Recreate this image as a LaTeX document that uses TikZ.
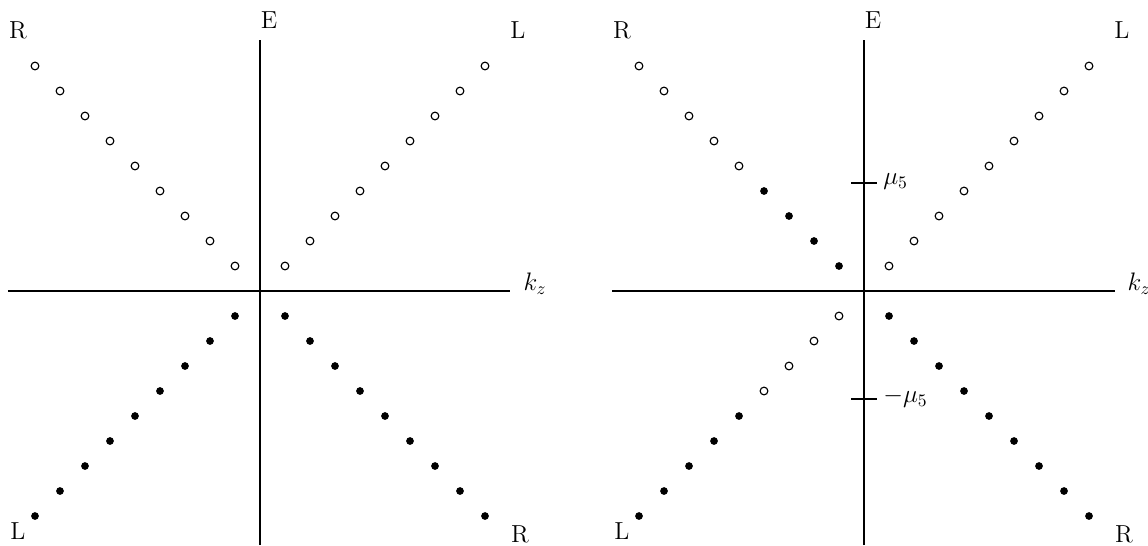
\documentclass[tikz,border=0pt]{standalone}
\begin{document}
\begin{tikzpicture}[x=0.5cm,y=0.5cm,line width=1.1pt,
  font=\fontsize{14pt}{16pt}\selectfont,
  hole/.style={draw,line width=0.65pt,fill=white},
  full/.style={fill=black}]
  \useasboundingbox (-10.4,-10.16) rectangle (35.52,11.64);
  % left panel: axes
  \coordinate (xlA) at (-10.08,0);
  \coordinate (xrA) at (10.0,0);
  \coordinate (ybA) at (0,-10.16);
  \coordinate (ytA) at (0,10.04);
  \draw (xlA) -- (xrA);
  \draw (ybA) -- (ytA);
  \node (kzA) at (11.0,0.28) {$k_z$};
  \node (EA) at (0.36,10.84) {E};
  \node (RtA) at (-9.68,10.44) {R};
  \node (LtA) at (10.32,10.44) {L};
  \node (LbA) at (-9.68,-9.6) {L};
  \node (RbA) at (10.4,-9.72) {R};
  % left panel: states
  \foreach \k in {1,...,9} {
    \filldraw[hole] (-\k,\k) circle (2.2pt);
    \filldraw[hole] (\k,\k) circle (2.2pt);
    \fill[full] (-\k,-\k) circle (2.2pt);
    \fill[full] (\k,-\k) circle (2.2pt);
  }
  \begin{scope}[xshift=12.08cm]
    % right panel: axes
    \coordinate (xlB) at (-10.08,0);
    \coordinate (xrB) at (10.04,0);
    \coordinate (ybB) at (0,-10.16);
    \coordinate (ytB) at (0,10.04);
    \draw (xlB) -- (xrB);
    \draw (ybB) -- (ytB);
    \node (kzB) at (11.0,0.28) {$k_z$};
    \node (EB) at (0.36,10.84) {E};
    \node (RtB) at (-9.68,10.44) {R};
    \node (LtB) at (10.32,10.44) {L};
    \node (LbB) at (-9.68,-9.6) {L};
    \node (RbB) at (10.4,-9.72) {R};
    % chemical potential marks
    \coordinate (mupl) at (-0.52,4.32);
    \coordinate (mupr) at (0.52,4.32);
    \coordinate (mueml) at (-0.52,-4.32);
    \coordinate (mumr) at (0.52,-4.32);
    \draw (mupl) -- (mupr);
    \draw[line width=1.5pt] (mueml) -- (mumr);
    \node[right] (muP) at (0.5,4.36) {$\mu_5$};
    \node[right] (muM) at (0.5,-4.28) {$-\mu_5$};
    % right panel: states
    \foreach \k in {1,...,9} {
      \filldraw[hole] (\k,\k) circle (2.2pt);
      \fill[full] (\k,-\k) circle (2.2pt);
    }
    \foreach \k in {1,...,4} {
      \fill[full] (-\k,\k) circle (2.2pt);
      \filldraw[hole] (-\k,-\k) circle (2.2pt);
    }
    \foreach \k in {5,...,9} {
      \filldraw[hole] (-\k,\k) circle (2.2pt);
      \fill[full] (-\k,-\k) circle (2.2pt);
    }
  \end{scope}
\end{tikzpicture}
\end{document}
